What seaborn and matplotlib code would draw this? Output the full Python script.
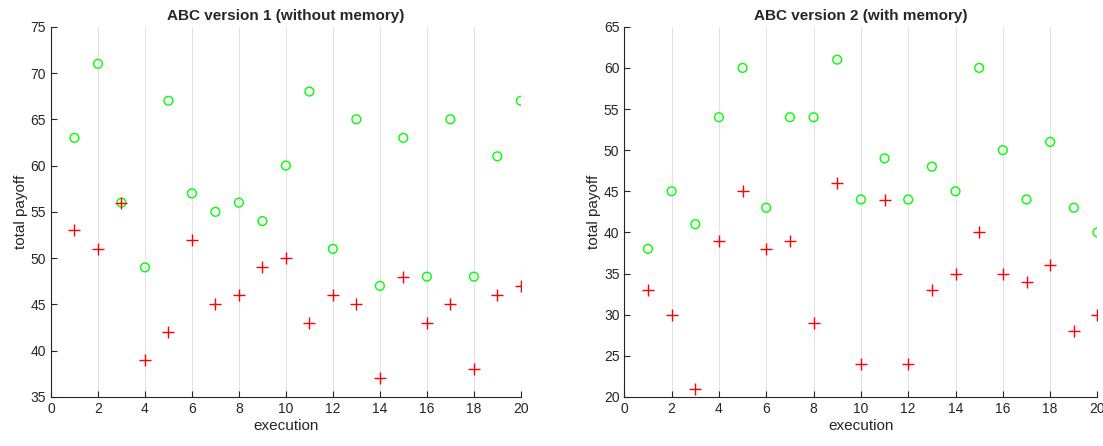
import numpy as np
import pandas as pd
import matplotlib
matplotlib.use('Agg')
import matplotlib.pyplot as plt
import seaborn as sns

# values
execution = list(range(1, 21))
v1_green = [63, 71, 56, 49, 67, 57, 55, 56, 54, 60, 68, 51, 65, 47, 63, 48, 65, 48, 61, 67]
v1_red = [53, 51, 56, 39, 42, 52, 45, 46, 49, 50, 43, 46, 45, 37, 48, 43, 45, 38, 46, 47]
v2_green = [38, 45, 41, 54, 60, 43, 54, 54, 61, 44, 49, 44, 48, 45, 60, 50, 44, 51, 43, 40]
v2_red = [33, 30, 21, 39, 45, 38, 39, 29, 46, 24, 44, 24, 33, 35, 40, 35, 34, 36, 28, 30]

titles = ['ABC version 1 (without memory)', 'ABC version 2 (with memory)']
ylims = [(35, 75), (20, 65)]

sns.set_style('white')
plt.rcParams['font.family'] = ['Liberation Sans', 'DejaVu Sans']
plt.rcParams['font.size'] = 10

fig = plt.figure(figsize=(11.03, 4.46), dpi=100)
ax1 = fig.add_axes([0.0462, 0.110, 0.426, 0.830])
ax2 = fig.add_axes([0.566, 0.110, 0.429, 0.830])

panels = [(ax1, v1_green, v1_red), (ax2, v2_green, v2_red)]
for i, (ax, g, r) in enumerate(panels):
    df = pd.DataFrame({'execution': execution, 'green': g, 'red': r})
    sns.scatterplot(data=df, x='execution', y='green', ax=ax, marker='o', s=40,
                    facecolors='none', edgecolor='#00ff00', linewidth=1.0, zorder=3)
    sns.scatterplot(data=df, x='execution', y='red', ax=ax, marker='+', s=80,
                    color='#ff0000', linewidth=1.0, zorder=4)
    ax.set_xlim(0, 20)
    ax.set_ylim(*ylims[i])
    ax.set_xticks(np.arange(0, 21, 2))
    ax.set_yticks(np.arange(ylims[i][0], ylims[i][1] + 1, 5))
    ax.grid(axis='x', color='#e3e3e3', linewidth=0.8)
    ax.grid(axis='y', visible=False)
    ax.set_axisbelow(True)
    for s in ['top', 'right']:
        ax.spines[s].set_visible(False)
    for s in ['left', 'bottom']:
        ax.spines[s].set_color('#262626')
        ax.spines[s].set_linewidth(0.8)
    ax.tick_params(direction='in', length=4, width=0.8, colors='#262626',
                   labelsize=10, left=True, bottom=True)
    ax.set_xlabel('execution', fontsize=11, color='#262626', labelpad=2)
    ax.set_ylabel('total payoff', fontsize=11, color='#262626', labelpad=2)
    ax.set_title(titles[i], fontsize=11, fontweight='bold', pad=5)

fig.savefig('out.png', dpi=100)
